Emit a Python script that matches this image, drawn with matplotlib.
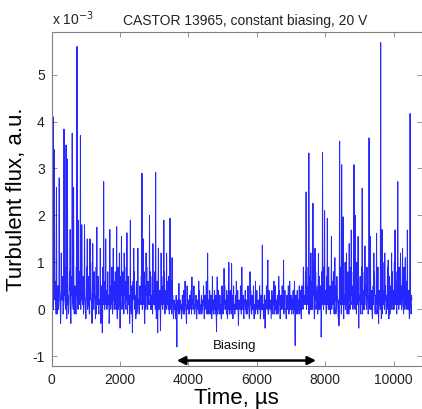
import numpy as np
import matplotlib
matplotlib.use("Agg")
import matplotlib.pyplot as plt

plt.rcParams['font.family'] = ['Liberation Sans', 'DejaVu Sans']
plt.rcParams['axes.unicode_minus'] = False

# flux record: two samples per 20 us bin (excursion sample, then core sample)
dt_us = 10

# excursion samples (units of 1e-3), rows of 10 bins = 200 us
base_flux = [
    0.3, 0.9, 0.1, 1.1, -0.2, 0.6, 0.2, 1.0, -0.1, 0.5,
    0.0, 0.8, 0.3, -0.3, 1.2, 0.2, 0.7, -0.1, 0.4, 0.9,
    0.1, 0.6, -0.2, 1.0, 0.3, 0.0, 0.8, 0.2, -0.3, 0.7,
    0.4, 0.1, 1.1, -0.1, 0.5, 0.2, 0.9, 0.0, 0.6, -0.2,
    0.3, 0.8, 0.1, 1.0, -0.3, 0.4, 0.7, 0.0, 0.5, 0.2,
    -0.2, 0.9, 0.3, 0.1, 0.7, -0.1, 0.5, 1.0, 0.2, -0.3,
    0.6, 0.1, 0.8, 0.3, -0.2, 0.9, 0.0, 0.4, 0.7, -0.1,
    0.2, 0.8, -0.3, 0.5, -0.5, 0.9, 0.1, 0.3, 0.6, -0.2,
    0.4, 0.0, 0.8, 0.2, -0.3, 0.7, 0.1, 0.5, 0.9, -0.1,
    -0.45, 0.6, 0.2, 0.8, 0.0, 0.4, -0.2, 0.9, 0.1, 0.5,
    -0.4, 0.7, 0.2, 0.0, 0.8, 0.3, -0.2, 0.6, 0.1, 0.9,
    0.2, -0.1, 0.7, 0.3, -0.3, 0.8, 0.0, 0.5, -0.5, 0.6,
    0.1, 0.8, 0.3, -0.2, 0.6, 0.0, 0.9, 0.2, -0.1, 0.5,
    0.3, 0.7, -0.2, 0.4, 0.1, 0.8, -0.3, 0.5, 0.2, 0.9,
    0.0, 0.6, 0.2, -0.1, 0.8, 0.3, 0.0, 0.7, -0.2, 0.4,
    0.1, 0.8, 0.2, -0.2, 0.6, -0.5, 0.9, 0.0, 0.4, -0.45,
    0.3, 0.7, 0.0, 0.5, -0.2, 0.8, 0.1, 0.4, -0.1, 0.6,
    0.2, 0.7, -0.1, 0.5, 0.1, 0.6, 0.0, 0.3, -0.2, 0.2,
    0.1, -0.2, 0.3, -0.8, 0.2, 0.0, 0.4, -0.1, 0.2, 0.1,
    -0.2, 0.3, 0.0, 0.4, -0.1, 0.2, 0.1, -0.3, 0.5, 0.0,
    0.2, -0.1, 0.3, 0.1, 0.4, -0.2, 0.2, 0.0, 0.5, -0.1,
    0.1, 0.3, -0.2, 0.2, 0.0, -0.35, 0.4, 0.1, -0.1, 0.3,
    0.0, 0.2, 0.5, -0.2, 0.3, 0.1, 0.6, -0.1, 0.4, 0.2,
    -0.1, 0.4, 0.1, 0.3, -0.2, 0.5, 0.0, 0.2, 0.4, -0.1,
    0.3, -0.48, 0.2, 0.0, 0.4, -0.1, 0.3, 0.1, -0.2, 0.5,
    0.1, 0.3, -0.1, 0.5, 0.0, 0.2, 0.4, -0.2, 0.3, 0.1,
    -0.1, 0.4, 0.2, 0.0, 0.3, -0.2, 0.5, 0.1, -0.1, 0.3,
    0.2, 0.0, 0.4, -0.35, 0.2, 0.1, 0.5, -0.1, 0.3, 0.0,
    0.3, -0.2, 0.2, 0.4, 0.0, 0.2, -0.1, 0.5, 0.1, -0.2,
    0.2, 0.4, -0.1, 0.3, 0.0, 0.5, -0.2, 0.1, 0.3, 0.0,
    0.4, -0.1, 0.2, 0.1, 0.5, -0.2, 0.3, 0.0, 0.4, 0.1,
    -0.2, 0.3, -0.4, 0.2, 0.5, 0.0, 0.3, -0.1, 0.4, 0.1,
    0.2, -0.2, 0.4, 0.0, 0.3, 0.1, -0.1, 0.5, 0.2, 0.0,
    0.3, -0.1, 0.2, 0.4, -0.2, 0.3, 0.0, 0.5, 0.1, -0.1,
    0.2, 0.4, 0.0, -0.2, 0.3, 0.1, 0.5, -0.1, 0.2, 0.0,
    0.3, -0.1, 0.2, 0.4, 0.0, -0.2, -0.77, 0.3, 0.1, 0.4,
    -0.1, 0.2, 0.3, 0.0, 0.4, -0.2, 0.5, 0.1, 0.6, 0.2,
    0.3, 0.8, -0.3, 0.5, 0.1, 0.9, 0.2, -0.1, 0.7, 0.3,
    0.0, 0.6, 0.2, 1.0, -0.2, 0.4, 0.8, 0.1, 0.5, -0.1,
    0.3, 0.7, 0.0, 0.5, -0.59, 0.8, 0.2, 0.4, 0.9, -0.2,
    0.4, 0.1, 0.7, -0.1, 0.3, 0.9, 0.0, 0.5, 0.2, -0.2,
    0.6, 0.1, 0.8, -0.1, 0.3, 0.5, 0.0, 0.7, 0.2, -0.2,
    -0.35, 0.5, 0.2, 0.9, 0.0, 0.4, 0.7, -0.2, 0.3, 1.0,
    0.1, 0.6, -0.1, 0.8, 0.3, 0.0, 0.9, 0.2, -0.3, 0.5,
    0.2, 0.8, 0.0, 0.6, -0.2, 0.4, 1.0, 0.1, 0.5, -0.4,
    0.3, 0.7, -0.1, 0.9, 0.2, 0.4, 0.0, 0.8, -0.2, 0.5,
    0.1, 0.9, 0.3, -0.1, 0.6, 0.2, 1.0, 0.0, 0.4, -0.2,
    0.5, 0.1, 0.8, -0.1, 0.3, 0.7, 0.0, 0.9, -0.3, 0.4,
    0.2, 0.6, -0.2, 0.8, 0.1, 0.4, 1.0, 0.0, 0.5, -0.1,
    0.3, 0.9, 0.1, -0.2, 0.7, 0.2, 0.5, -0.1, 0.8, 0.0,
    0.4, 1.0, -0.4, 0.6, 0.2, 0.8, -0.1, 0.3, 0.9, 0.1,
    -0.2, 0.5, 0.2, 0.7, 0.0, 0.9, 0.3, -0.1, 0.6, 0.2,
    0.8, 0.0, 0.4, -0.2, 0.6, 0.1, 0.3,
]

# core samples (units of 1e-3), same bins
core_flux = [
    0.1, 0.3, 0.0, 0.2, 0.4, 0.1, -0.1, 0.3, 0.2, 0.0,
    0.2, 0.4, 0.1, 0.0, 0.3, 0.2, -0.1, 0.1, 0.3, 0.2,
    0.0, 0.2, 0.3, 0.1, -0.1, 0.2, 0.4, 0.0, 0.1, 0.3,
    0.2, 0.0, 0.3, 0.1, 0.2, -0.1, 0.3, 0.2, 0.0, 0.1,
    0.3, 0.1, 0.0, 0.2, 0.4, 0.1, -0.1, 0.2, 0.3, 0.0,
    0.1, 0.2, 0.0, 0.3, 0.1, -0.1, 0.2, 0.4, 0.0, 0.1,
    0.2, 0.0, 0.3, 0.1, 0.2, -0.1, 0.1, 0.3, 0.0, 0.2,
    0.1, 0.3, 0.0, 0.2, -0.1, 0.1, 0.3, 0.0, 0.2, 0.1,
    0.0, 0.2, 0.1, 0.3, -0.1, 0.2, 0.0, 0.1, 0.3, 0.1,
    0.2, 0.0, 0.1, 0.3, 0.1, -0.1, 0.2, 0.0, 0.3, 0.1,
    0.1, 0.3, 0.0, 0.2, 0.1, -0.1, 0.3, 0.1, 0.0, 0.2,
    0.0, 0.2, 0.1, 0.3, 0.0, 0.1, -0.1, 0.2, 0.1, 0.3,
    0.2, 0.0, 0.1, 0.2, -0.1, 0.3, 0.1, 0.0, 0.2, 0.1,
    0.1, 0.3, 0.0, 0.1, 0.2, -0.1, 0.2, 0.0, 0.3, 0.1,
    0.0, 0.2, 0.1, 0.3, 0.0, 0.1, 0.2, -0.1, 0.1, 0.2,
    0.2, 0.0, 0.3, 0.1, -0.1, 0.2, 0.0, 0.1, 0.3, 0.0,
    0.1, 0.2, 0.0, 0.3, 0.1, -0.1, 0.2, 0.0, 0.1, 0.2,
    0.0, 0.2, 0.1, 0.0, 0.2, -0.1, 0.1, 0.0, 0.1, 0.0,
    0.0, 0.1, -0.1, 0.0, 0.1, -0.1, 0.0, 0.1, 0.0, -0.1,
    0.1, 0.0, -0.1, 0.1, 0.0, 0.1, -0.1, 0.0, 0.1, 0.0,
    -0.1, 0.0, 0.1, 0.0, -0.1, 0.1, 0.0, 0.1, -0.1, 0.0,
    0.1, -0.1, 0.0, 0.1, 0.0, -0.1, 0.1, 0.0, 0.1, -0.1,
    0.0, 0.1, 0.0, -0.1, 0.1, 0.0, 0.2, 0.0, -0.1, 0.1,
    0.1, 0.0, -0.1, 0.1, 0.0, 0.1, -0.1, 0.0, 0.2, 0.0,
    0.0, 0.1, -0.1, 0.0, 0.1, 0.0, -0.1, 0.1, 0.0, 0.1,
    -0.1, 0.0, 0.1, 0.0, 0.2, -0.1, 0.0, 0.1, 0.0, -0.1,
    0.1, 0.0, -0.1, 0.1, 0.0, 0.1, 0.0, -0.1, 0.1, 0.0,
    0.0, 0.1, 0.0, -0.1, 0.1, 0.0, 0.1, -0.1, 0.0, 0.1,
    -0.1, 0.0, 0.1, 0.0, -0.1, 0.1, 0.0, 0.1, -0.1, 0.0,
    0.1, 0.0, -0.1, 0.0, 0.1, 0.0, 0.1, -0.1, 0.0, 0.1,
    0.0, -0.1, 0.1, 0.0, 0.1, -0.1, 0.0, 0.1, 0.0, -0.1,
    0.1, 0.0, -0.1, 0.1, 0.0, 0.1, -0.1, 0.0, 0.1, 0.0,
    0.0, 0.1, 0.0, -0.1, 0.1, 0.0, 0.1, 0.0, -0.1, 0.1,
    -0.1, 0.0, 0.1, 0.0, -0.1, 0.1, 0.0, 0.1, 0.0, -0.1,
    0.1, 0.0, -0.1, 0.1, 0.0, 0.1, -0.1, 0.0, 0.1, 0.0,
    0.0, 0.1, 0.0, -0.1, 0.1, 0.0, 0.1, -0.1, 0.0, 0.1,
    0.0, 0.1, -0.1, 0.1, 0.0, 0.1, 0.2, 0.0, 0.1, 0.2,
    0.1, 0.3, 0.0, 0.2, 0.1, -0.1, 0.3, 0.2, 0.0, 0.1,
    0.2, 0.0, 0.3, 0.1, -0.1, 0.2, 0.0, 0.3, 0.1, 0.2,
    0.0, 0.2, 0.1, 0.3, -0.1, 0.1, 0.2, 0.0, 0.3, 0.1,
    0.2, -0.1, 0.1, 0.3, 0.0, 0.2, 0.1, -0.1, 0.2, 0.0,
    0.1, 0.3, 0.0, 0.1, 0.2, -0.1, 0.1, 0.3, 0.0, 0.2,
    0.0, 0.2, 0.1, -0.1, 0.3, 0.1, 0.0, 0.2, 0.1, 0.0,
    0.2, 0.0, 0.1, 0.3, -0.1, 0.2, 0.0, 0.1, 0.3, 0.1,
    0.0, 0.2, 0.1, 0.0, 0.3, -0.1, 0.1, 0.2, 0.0, 0.1,
    0.2, 0.0, 0.3, 0.1, -0.1, 0.2, 0.1, 0.0, 0.3, 0.1,
    0.0, 0.2, -0.1, 0.1, 0.3, 0.0, 0.2, 0.1, -0.1, 0.2,
    0.1, 0.3, 0.0, 0.2, 0.1, -0.1, 0.2, 0.0, 0.3, 0.1,
    0.0, 0.2, 0.1, -0.1, 0.3, 0.1, 0.0, 0.2, 0.1, 0.0,
    0.2, 0.0, 0.3, 0.1, -0.1, 0.2, 0.0, 0.1, 0.3, 0.1,
    0.0, 0.2, 0.1, 0.3, -0.1, 0.1, 0.2, 0.0, 0.1, 0.2,
    0.1, 0.0, 0.3, 0.1, -0.1, 0.2, 0.0, 0.2, 0.1, 0.0,
    0.2, 0.1, 0.0, 0.3, 0.1, -0.1, 0.2,
]

# bursts (time in us, peak in units of 1e-3)
spike_t = [40, 80, 140, 220, 360, 420, 460, 540, 600, 640, 740, 780, 840, 880,
           960, 1040, 1120, 1200, 1320, 1420, 1520, 1580, 1700, 1800, 1900,
           1980, 2040, 2120, 2200, 2300, 2400, 2520, 2640, 2680, 2760, 2860,
           2960, 3040, 3120, 3200, 3280, 3360, 3460, 3520,
           3720, 3900, 4100, 4300, 4560, 4700, 4840, 5040, 5180, 5260, 5400,
           5560, 5800, 5960, 6160, 6320, 6500, 6640, 6780, 6960, 7100, 7240,
           7360, 7440, 7520, 7580, 7640, 7700, 7800, 7920, 7980, 8060, 8180,
           8280, 8420, 8480, 8520, 8620, 8700, 8760, 8840, 8880, 8960, 9080,
           9160, 9280, 9320, 9420, 9500, 9620, 9660, 9740, 9840, 9940, 10040,
           10120, 10200, 10260, 10340, 10400, 10480]
spike_v = [4.1, 3.4, 2.6, 2.8, 3.84, 3.5, 3.2, 1.7, 3.75, 2.6, 5.6, 1.9, 3.7, 1.8,
           1.8, 1.5, 1.5, 1.4, 1.75, 1.3, 2.72, 1.5, 1.7, 1.3, 1.76,
           1.2, 1.55, 1.2, 1.63, 1.9, 1.3, 1.3, 2.9, 1.5, 1.2, 2.0,
           1.4, 2.92, 1.3, 1.2, 1.9, 1.2, 1.94, 1.1,
           0.55, 0.6, 0.69, 0.6, 1.2, 0.7, 0.69, 0.87, 1.0, 0.98, 0.6,
           0.9, 0.8, 0.6, 1.37, 1.05, 0.6, 0.7, 1.05, 0.6, 0.6, 0.5,
           0.9, 2.5, 3.33, 1.2, 2.26, 1.3, 1.19, 3.34, 2.1, 1.94, 1.55,
           1.1, 3.58, 3.08, 1.97, 1.2, 1.4, 1.69, 3.08, 2.0, 1.55, 2.58,
           1.35, 3.65, 1.55, 1.2, 1.62, 5.68, 1.7, 1.2, 1.05, 1.2, 1.69,
           2.72, 1.2, 1.3, 1.1, 1.69, 4.17]

x_ticks = [0, 2000, 4000, 6000, 8000, 10000]
y_ticks = [-1, 0, 1, 2, 3, 4, 5]
bias_start, bias_end = 3660, 7730

flux = np.empty(2 * len(base_flux))
flux[0::2] = base_flux
flux[1::2] = core_flux
for t, v in zip(spike_t, spike_v):
    flux[int(round(t / dt_us))] = v
time = np.arange(len(flux)) * dt_us

fig = plt.figure(figsize=(4.22, 4.09), dpi=100)
ax = fig.add_axes([0.1225, 0.1059, 0.8768, 0.8151])
ax.plot(time, flux, color='#0000ff', lw=0.7, alpha=0.85)

ax.set_xlim(0, 10820)
ax.set_ylim(-1.2, 5.9)
ax.set_xticks(x_ticks)
ax.set_yticks(y_ticks)
ax.tick_params(direction='in', length=3.5, width=0.6, top=True, right=True,
               labelsize=10, colors='#808080', labelcolor='#222222', pad=5)
for s in ax.spines.values():
    s.set_color('#808080')
    s.set_linewidth(0.8)

ax.set_xlabel('Time, µs', fontsize=16, labelpad=1)
ax.set_ylabel('Turbulent flux, a.u.', fontsize=16, labelpad=4)

ax.text(0.524, 1.012, 'CASTOR 13965, constant biasing, 20 V', transform=ax.transAxes,
        ha='center', va='bottom', fontsize=10, color='#222222')
ax.text(0.0, 1.012, r'x 10$^{-3}$', transform=ax.transAxes,
        ha='left', va='bottom', fontsize=10, color='#222222')

ax.annotate('', xy=(bias_end, -1.09), xytext=(bias_start, -1.09),
            arrowprops=dict(arrowstyle='<|-|>', color='black', lw=1.8,
                            mutation_scale=12, shrinkA=0, shrinkB=0))
ax.text((bias_start + bias_end) / 2 - 340, -0.79, 'Biasing', ha='center', va='center',
        fontsize=9.5, color='#111111')

fig.savefig('out.png', dpi=100)
